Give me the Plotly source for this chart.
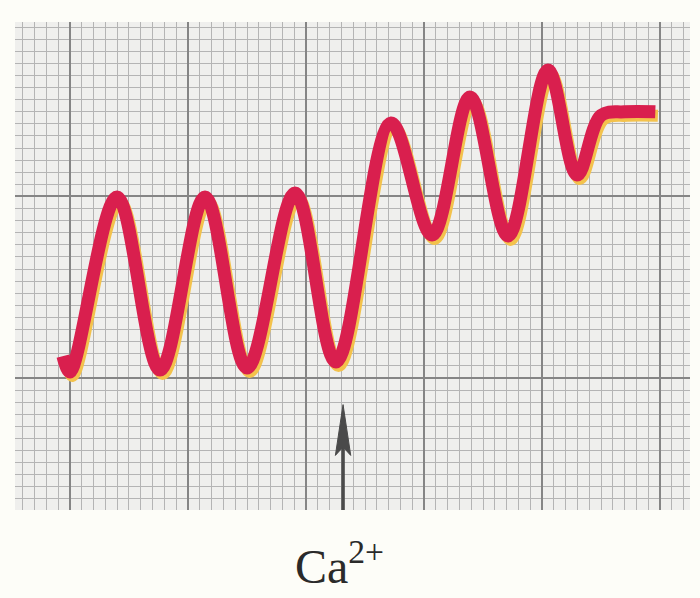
import plotly.graph_objects as go

# Recording (units = small grid squares)
time_sq = [-0.6, 0.0, 3.98, 7.63, 11.44, 15.0, 19.07, 22.54, 27.2, 30.68, 33.9, 37.12, 40.5, 42.97, 45.0, 47.0, 49.6]
tension_sq = [1.8, 0.5, 14.96, 0.66, 14.96, 0.83, 15.29, 1.32, 21.07, 11.82, 23.22, 11.74, 25.45, 16.78, 21.7, 22.0, 22.0]

# Ca2+ addition marker
ca_time = 23.14
ca_tip = -2.2
label_text = "Ca<sup>2+</sup>"

X_RANGE = [-4.66, 52.54]
Y_RANGE = [-10.91, 29.42]

fig = go.Figure()

# yellow/orange fringe (printing offset)
fig.add_trace(go.Scatter(
    x=[t + 0.22 for t in time_sq], y=[v - 0.33 for v in tension_sq],
    mode="lines", line=dict(color="#f3c24c", width=12, shape="spline", smoothing=1.0),
    hoverinfo="skip", showlegend=False))
# main red trace
fig.add_trace(go.Scatter(
    x=time_sq, y=tension_sq,
    mode="lines", line=dict(color="#d91f4e", width=13, shape="spline", smoothing=1.0),
    showlegend=False))

# arrow marking Ca2+ addition: shaft + long narrow head
head_len, head_half, notch = 4.2, 0.65, 3.5
fig.add_shape(type="line", xref="x", yref="y",
              x0=ca_time, x1=ca_time, y0=Y_RANGE[0], y1=ca_tip - 1.0,
              line=dict(color="#4a4a4a", width=3.5))
fig.add_shape(type="path", xref="x", yref="y",
              path=(f"M {ca_time},{ca_tip} L {ca_time - head_half},{ca_tip - head_len} "
                    f"L {ca_time},{ca_tip - notch} L {ca_time + head_half},{ca_tip - head_len} Z"),
              fillcolor="#4a4a4a", line=dict(color="#4a4a4a", width=1))

fig.add_annotation(
    x=ca_time - 0.3, y=-0.108, xref="x", yref="paper",
    text=label_text, showarrow=False,
    font=dict(family="Liberation Serif", size=48, color="#2a2a2a"),
    xanchor="center", yanchor="middle")

axis_common = dict(showticklabels=False, ticks="", zeroline=False, showline=False,
                   gridcolor="#858585", gridwidth=2,
                   minor=dict(showgrid=True, gridcolor="#b4b4b4", gridwidth=1.2, dtick=1, tick0=0))
fig.update_xaxes(range=X_RANGE, dtick=10, tick0=0, **axis_common)
fig.update_yaxes(range=Y_RANGE, dtick=15, tick0=0, **axis_common)

fig.update_layout(
    width=700, height=598, autosize=False,
    margin=dict(l=15, r=10, t=22, b=88),
    paper_bgcolor="#fdfdf8", plot_bgcolor="#efefed")

fig.write_html("out.html", config={"displayModeBar": False},
               post_script="document.body.style.margin='0';document.body.style.overflow='hidden';")
